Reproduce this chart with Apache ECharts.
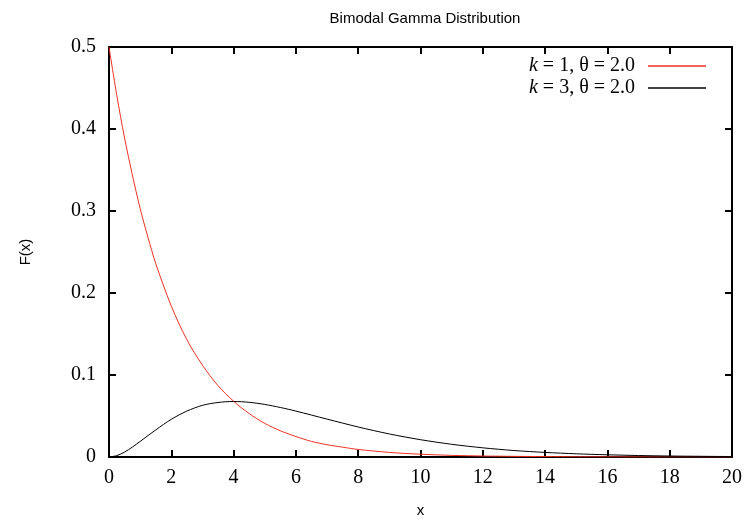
<!DOCTYPE html>
<html><head><meta charset="utf-8">
<script src="https://cdn.jsdelivr.net/npm/echarts@6/dist/echarts.min.js"></script>
<style>html,body{margin:0;padding:0;background:#fff}#c{width:747px;height:521px}</style>
</head><body><div id="c"></div>
<script>
const xRed = [0,0.25,0.5,0.75,1,1.25,1.5,2,2.5,3,3.5,4,4.5,5,5.5,6,6.5,7,7.5,8,9,10,11,12,13,14,15,16,17,18,19,20];
const yRed = [0.5,0.441,0.389,0.344,0.303,0.268,0.236,0.184,0.143,0.112,0.087,0.068,0.053,0.041,0.032,0.025,0.019,0.015,0.012,0.0092,0.0056,0.0034,0.0020,0.0012,0.0008,0.0005,0.0003,0.0002,0.0001,0.0001,0.00004,0.00002];
const xBlack = [0,0.25,0.5,0.75,1,1.5,2,2.5,3,3.5,4,4.5,5,5.5,6,7,8,9,10,11,12,13,14,15,16,17,18,19,20];
const yBlack = [0,0.0017,0.006,0.0121,0.019,0.033,0.046,0.056,0.063,0.0665,0.0677,0.0667,0.0641,0.0604,0.056,0.0462,0.0366,0.0281,0.0211,0.0155,0.0112,0.0079,0.0056,0.0039,0.0027,0.0018,0.0012,0.00085,0.00057];
const seriesNames = ['k = 1, θ = 2.0', 'k = 3, θ = 2.0'];
const xTicks = [0,20,2];
const yTicks = [0,0.5,0.1];

const serif = '"Liberation Serif", "DejaVu Serif", serif';
const sans = '"Liberation Sans", Arial, sans-serif';
const zip = (a,b) => a.map((v,i)=>[v,b[i]]);
const chart = echarts.init(document.getElementById('c'), null, {renderer:'canvas'});
const axisCommon = {
  axisLine:{show:true, onZero:false, lineStyle:{color:'#000', width:2}},
  axisTick:{show:true, inside:true, length:7, lineStyle:{color:'#000', width:2}},
  splitLine:{show:false}
};
chart.setOption({
  animation:false,
  title:{text:'Bimodal Gamma Distribution', left:420, top:6, textAlign:'center',
    textStyle:{fontFamily:sans, fontSize:15, fontWeight:'normal', color:'#000'}},
  legend:{
    orient:'vertical', right:41, top:56, align:'right', itemGap:2, padding:0,
    itemWidth:58, itemHeight:1.5, icon:'rect',
    data:seriesNames,
    formatter: n => '{i|k}' + n.slice(1),
    textStyle:{fontFamily:serif, fontSize:20, color:'#000', padding:[0,8,0,0],
      rich:{i:{fontFamily:serif, fontStyle:'italic', fontSize:20, color:'#000'}}}
  },
  grid:{left:109, right:15, top:47, bottom:64, outerBoundsMode:'none', containLabel:false},
  xAxis:[
    Object.assign({type:'value', min:xTicks[0], max:xTicks[1], interval:xTicks[2], position:'bottom',
      name:'x', nameLocation:'middle', nameGap:46,
      nameTextStyle:{fontFamily:sans, fontSize:15, color:'#000'},
      axisLabel:{fontFamily:serif, fontSize:20, color:'#000', margin:11}}, axisCommon),
    Object.assign({type:'value', min:xTicks[0], max:xTicks[1], interval:xTicks[2], position:'top',
      axisLabel:{show:false}}, axisCommon)
  ],
  yAxis:[
    Object.assign({type:'value', min:yTicks[0], max:yTicks[1], interval:yTicks[2], position:'left',
      name:'F(x)', nameLocation:'middle', nameGap:76, nameRotate:90,
      nameTextStyle:{fontFamily:sans, fontSize:15, color:'#000'},
      axisLabel:{fontFamily:serif, fontSize:20, color:'#000', margin:13,
        formatter: v => v === 0 ? '0' : v.toFixed(1)}}, axisCommon),
    Object.assign({type:'value', min:yTicks[0], max:yTicks[1], interval:yTicks[2], position:'right',
      axisLabel:{show:false}}, axisCommon)
  ],
  series:[
    {name:seriesNames[0], type:'line', data:zip(xRed,yRed), smooth:0.3, symbol:'none',
      lineStyle:{color:'#f03020', width:1}, itemStyle:{color:'#f03020'}},
    {name:seriesNames[1], type:'line', data:zip(xBlack,yBlack), smooth:0.3, symbol:'none',
      lineStyle:{color:'#000', width:1}, itemStyle:{color:'#000'}}
  ]
});
</script></body></html>
